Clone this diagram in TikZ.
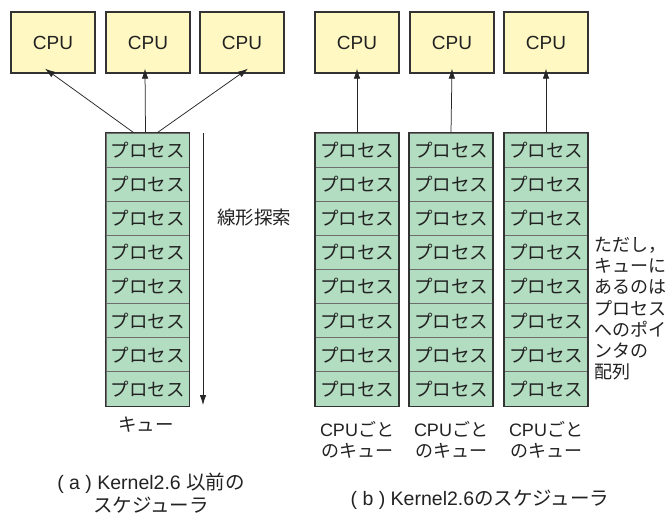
\documentclass[tikz,border=0pt]{standalone}
\usepackage{fontspec}
\setmainfont{Liberation Sans}
\newfontfamily\jp{Noto Sans CJK JP}
\usetikzlibrary{arrows.meta}
\definecolor{cpufill}{HTML}{FFF8C2}
\definecolor{procfill}{HTML}{B3DDC1}
\definecolor{edge}{HTML}{333333}
\definecolor{sep}{HTML}{6E6E6E}
\definecolor{txt}{HTML}{222222}
\begin{document}
\begin{tikzpicture}[x=1pt,y=-1pt,
  cpubox/.style={draw=edge,line width=1.3pt,fill=cpufill,minimum width=84pt,minimum height=61pt,inner sep=0pt,font=\fontsize{19}{21}\selectfont,text=txt},
  cell/.style={draw=sep,line width=1pt,fill=procfill,minimum width=83pt,minimum height=34.125pt,inner sep=0pt,font=\jp\fontsize{18.5}{20}\selectfont,text=txt},
  outer/.style={draw=edge,line width=1.3pt},
  conn/.style={draw=black!85,line width=0.75pt,-{Latex[length=10pt,width=6.5pt]}},
  lbl/.style={text=txt,inner sep=0pt,align=center}
]
\useasboundingbox (0,0) rectangle (670,514);
% CPU boxes (a)
\node[cpubox] (ca1) at (53,42.5) {CPU};
\node[cpubox] (ca2) at (148,42.5) {CPU};
\node[cpubox] (ca3) at (242,42.5) {CPU};
% CPU boxes (b)
\node[cpubox] (cb1) at (357,42.5) {CPU};
\node[cpubox] (cb2) at (452,42.5) {CPU};
\node[cpubox] (cb3) at (546,42.5) {CPU};
% queue (a)
\foreach \i in {1,...,8}{
  \node[cell] (qa\i) at (147.5,{133+34.125*(\i-0.5)}) {プロセス};
}
\draw[outer] (qa1.north west) rectangle (qa8.south east);
% queues (b)
\foreach \j/\x in {1/357,2/451,3/546}{
  \foreach \i in {1,...,8}{
    \node[cell] (qb\j\i) at (\x,{133+34.125*(\i-0.5)}) {プロセス};
  }
  \draw[outer] (qb\j1.north west) rectangle (qb\j8.south east);
}
% arrows (a)
\draw[conn] ([xshift=-14pt]qa1.north) -- ([xshift=-8pt,yshift=5pt]ca1.south);
\draw[conn] ([xshift=-2pt]qa1.north) -- ([xshift=-3pt,yshift=5pt]ca2.south);
\draw[conn] ([xshift=10pt]qa1.north) -- ([xshift=6pt,yshift=5pt]ca3.south);
% arrows (b)
\foreach \j in {1,2,3}{
  \draw[conn] (qb\j1.north) -- ([yshift=5pt]cb\j.south);
}
% linear search arrow
\coordinate (ls1) at (203,133);
\coordinate (ls2) at (203,405);
\draw[conn] (ls1) -- (ls2);
\node[lbl,font=\jp\fontsize{18.5}{20}\selectfont] (lsl) at (254,218) {線形探索};
% labels
\node[lbl,font=\jp\fontsize{18.5}{20}\selectfont] (qal) at (146,425) {キュー};
\foreach \j/\x in {1/357,2/451,3/546}{
  \node[lbl,font=\fontsize{18}{21}\selectfont] (qbl\j) at (\x,440) {CPU{\jp ごと}\\{\jp のキュー}};
}
\node[lbl,anchor=north west,align=left,font=\jp\fontsize{18}{21.2}\selectfont] (note) at (594,237)
  {ただし，\\キューに\\あるのは\\プロセス\\へのポイ\\ンタの\\配列};
% captions
\node[lbl,font=\fontsize{19.5}{23}\selectfont] (capa) at (151,493.5) {( a ) Kernel2.6 {\jp 以前の}\\{\jp スケジューラ}};
\node[lbl,font=\fontsize{19.5}{22}\selectfont] (capb) at (480,500) {( b ) Kernel2.6{\jp のスケジューラ}};
\end{tikzpicture}
\end{document}
